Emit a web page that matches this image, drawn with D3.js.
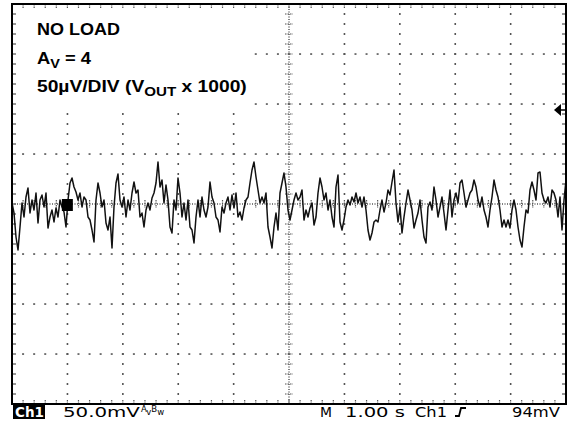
<!DOCTYPE html>
<html>
<head>
<meta charset="utf-8">
<script src="https://cdn.jsdelivr.net/npm/d3@7"></script>
<style>
  body { margin: 0; background: #fff; }
  svg { display: block; }
</style>
</head>
<body>
<svg width="570" height="421"></svg>
<script>
// scope capture, noise at output, no load
// values in uV (display is 50uV/div after x1000 gain)

const noise = [
  1,-9,-33,-46,-23,1,-13,7,16,-9,4,-6,11,-19,4,9,-3,11,-24,-13,
  -6,-18,-4,-13,4,-3,-8,-23,4,21,26,17,12,4,11,-3,7,4,-13,-16,
  -26,-38,4,21,11,-3,4,-19,-26,-13,-44,-3,21,30,4,-3,7,-13,4,-6,
  11,22,11,14,-13,-9,-23,-6,1,-6,
  6,11,21,42,17,24,1,19,4,-23,-29,4,-6,26,11,-13,1,-16,4,-23,
  -26,-39,-13,4,-13,7,-6,-13,-3,22,7,1,-13,-16,-28,-3,-9,1,7,-6,
  9,-4,11,-13,-8,-16,-4,4,7,21,34,42,27,14,1,7,1,11,-23,-33,
  -44,-23,-9,-26,11,21,31,17,-6,-16,
  -6,4,11,4,7,14,-16,-6,-13,-4,1,-21,-13,11,26,17,4,11,-6,4,
  -13,-23,17,29,-18,-26,-16,-3,4,-1,7,2,11,1,7,-3,7,-6,-26,-36,
  -29,-18,-16,-18,-6,4,-8,1,14,9,22,34,1,-18,-3,-29,-13,1,14,4,
  -6,-24,-16,-9,4,-16,-33,-39,-3,2,
  -6,17,4,-13,-3,7,-9,-26,-6,14,-13,4,11,1,21,24,11,-3,4,11,
  14,24,17,4,-3,7,-6,-13,-23,-6,7,24,14,7,-6,-23,-16,-23,-16,-24,
  -6,4,-6,-23,-36,-43,-23,-6,-9,14,22,14,4,31,32,11,4,1,7,-3,
  14,11,4,-13,7,-26,4,24
];

const timeSpan = [0, 10];          // 1.00 s/div, 10 div
const voltSpan = [-200, 200];      // 8 div x 50
const triggerLevel = 94;
const header = ["NO LOAD", "A|V| = 4", "50\u00b5V/DIV (V|OUT| x 1000)"];
const status = ["50.0mV", "M", "1.00 s", "Ch1", "94mV"];

const svg = d3.select('svg');
const gLeft = 12, gRight = 566, gTop = 4, gBottom = 404;

const x = d3.scaleLinear().domain(timeSpan).range([gLeft, gRight]);
const y = d3.scaleLinear().domain(voltSpan).range([gBottom, gTop]);
const tOf = i => timeSpan[1] * i / (noise.length - 1);

const xMajor = d3.range(0, 11, 1);
const xMinor = d3.range(0, 10.01, 0.2);
const yMajor = d3.range(-200, 201, 50);
const yMinor = d3.range(-200, 201, 10);

const grid = svg.append('g').attr('fill', '#555');

// dotted graticule
xMajor.filter(d => d > 0 && d < 10 && d !== 5).forEach(gx => {
  grid.selectAll(null).data(yMinor.filter(v => v > -200 && v < 200)).enter().append('rect')
    .attr('x', x(gx) - 0.75).attr('y', d => y(d) - 1)
    .attr('width', 1.6).attr('height', 2);
});
yMajor.filter(d => d > -200 && d < 200 && d !== 0).forEach(gy => {
  grid.selectAll(null).data(xMinor.filter(v => v > 0 && v < 10)).enter().append('rect')
    .attr('x', d => x(d) - 1).attr('y', y(gy) - 0.75)
    .attr('width', 2).attr('height', 1.6);
});

// center axes
svg.append('line').attr('x1', x(5)).attr('x2', x(5)).attr('y1', gTop).attr('y2', gBottom)
  .attr('stroke', '#555').attr('stroke-width', 1.5).attr('stroke-dasharray', '1,1.5');
svg.append('line').attr('x1', gLeft).attr('x2', gRight).attr('y1', y(0)).attr('y2', y(0))
  .attr('stroke', '#555').attr('stroke-width', 1.5).attr('stroke-dasharray', '1,1.5');
svg.append('g').selectAll('line').data(yMinor).enter().append('line')
  .attr('x1', x(5) - 4).attr('x2', x(5) + 4).attr('y1', d => y(d)).attr('y2', d => y(d))
  .attr('stroke', '#555').attr('stroke-width', 1.2).attr('stroke-dasharray', '1.5,1');
svg.append('g').selectAll('line').data(xMinor).enter().append('line')
  .attr('x1', d => x(d)).attr('x2', d => x(d)).attr('y1', y(0) - 4).attr('y2', y(0) + 4)
  .attr('stroke', '#555').attr('stroke-width', 1.2).attr('stroke-dasharray', '1.5,1');

// edge ticks
const edge = svg.append('g').attr('stroke', '#555').attr('stroke-width', 1.2);
edge.selectAll(null).data(yMinor).enter().append('line')
  .attr('x1', gLeft).attr('x2', gLeft + 4).attr('y1', d => y(d)).attr('y2', d => y(d));
edge.selectAll(null).data(yMinor).enter().append('line')
  .attr('x1', gRight - 4).attr('x2', gRight).attr('y1', d => y(d)).attr('y2', d => y(d));
edge.selectAll(null).data(xMinor).enter().append('line')
  .attr('x1', d => x(d)).attr('x2', d => x(d)).attr('y1', gTop).attr('y2', gTop + 4)
  .attr('stroke-dasharray', '1.5,1');
edge.selectAll(null).data(xMinor).enter().append('line')
  .attr('x1', d => x(d)).attr('x2', d => x(d)).attr('y1', gBottom - 4).attr('y2', gBottom)
  .attr('stroke-dasharray', '1.5,1');

// label box hides the graticule
svg.append('rect').attr('x', 22).attr('y', 8).attr('width', 231).attr('height', 100).attr('fill', '#fff');

// trace
const line = d3.line().x((d, i) => x(tOf(i))).y(d => y(d));
svg.append('path').datum(noise)
  .attr('d', line)
  .attr('fill', 'none').attr('stroke', '#111').attr('stroke-width', 1.5)
  .attr('stroke-linejoin', 'round');

// marker block on trace
svg.append('rect').attr('x', x(0.9)).attr('y', y(5)).attr('width', 11).attr('height', 12).attr('fill', '#000');

// frame
svg.append('rect').attr('x', gLeft).attr('y', gTop).attr('width', gRight - gLeft).attr('height', gBottom - gTop)
  .attr('fill', 'none').attr('stroke', '#000').attr('stroke-width', 2);

// trigger level arrow
const ty = y(triggerLevel);
svg.append('path').attr('d', `M${gRight - 12},${ty} L${gRight - 5},${ty - 6} L${gRight - 5},${ty + 6} Z`).attr('fill', '#000');
svg.append('line').attr('x1', gRight - 6).attr('x2', gRight).attr('y1', ty).attr('y2', ty).attr('stroke', '#000').attr('stroke-width', 1.5);

// header text
const hdrWidths = [83, 55, 210];
const hdrBase = [35, 64, 92];
header.forEach((s, k) => {
  const t = svg.append('text').attr('x', 37).attr('y', hdrBase[k])
    .attr('font-family', 'Liberation Sans, Arial, sans-serif').attr('font-weight', 'bold')
    .attr('font-size', 16.5).attr('fill', '#000');
  s.split('|').forEach((part, j) => {
    const sub = j % 2 === 1;
    t.append('tspan').text(part)
      .attr('font-size', sub ? 13 : 16.5)
      .attr('dy', sub ? 4 : (j > 0 ? -4 : 0));
  });
  const w = t.node().getBBox().width;
  t.attr('transform', `translate(37,0) scale(${hdrWidths[k] / w},1) translate(-37,0)`);
});

// status bar
svg.append('rect').attr('x', 13).attr('y', 405).attr('width', 32).attr('height', 14).attr('fill', '#000');
const stFont = 'DejaVu Sans, sans-serif';
const stText = (s, x0, w, color, weight) => {
  const t = svg.append('text').attr('x', x0).attr('y', 417).text(s)
    .attr('font-family', stFont).attr('font-size', 13.5).attr('fill', color || '#000')
    .attr('font-weight', weight || 'normal');
  const bw = t.node().getComputedTextLength();
  t.attr('transform', `translate(${x0},0) scale(${w / bw},1) translate(${-x0},0)`);
  return t;
};
stText('Ch1', 15, 29, '#fff', 'bold');
stText(status[0], 63, 77);
stText(status[1], 320, 12);
stText(status[2], 345, 60);
stText(status[3], 415, 32);
stText(status[4], 512, 48);

// bandwidth symbol
const bw = svg.append('text').attr('x', 141).attr('y', 414).attr('font-family', stFont).attr('font-size', 8.5).attr('fill', '#000');
bw.append('tspan').text('A').attr('dy', -2);
bw.append('tspan').text('v').attr('dy', 3);
bw.append('tspan').text('B').attr('dy', -3);
bw.append('tspan').text('w').attr('dy', 3);

// trigger slope symbol
svg.append('path').attr('d', 'M455,416 L459,416 L461,408 L466,408')
  .attr('fill', 'none').attr('stroke', '#000').attr('stroke-width', 1.8);
</script>
</body>
</html>
